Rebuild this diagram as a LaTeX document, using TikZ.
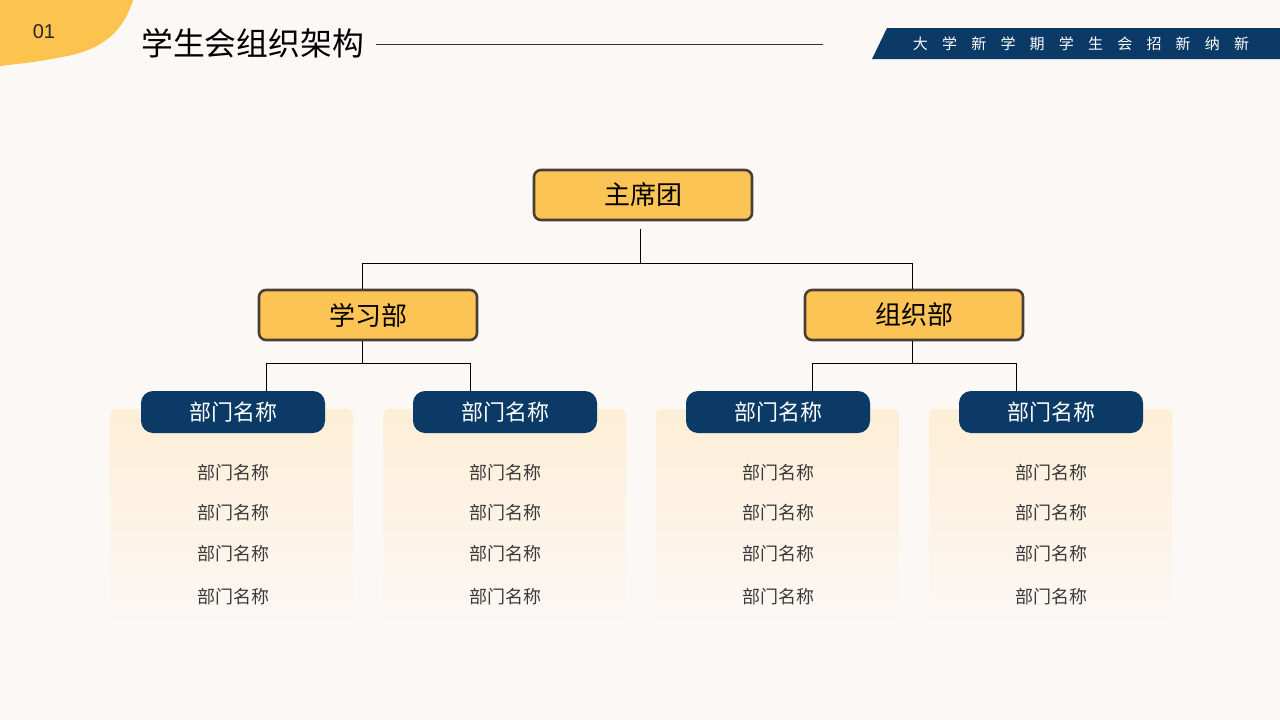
\documentclass[tikz,border=0pt]{standalone}
\usepackage{fontspec}
\setmainfont{Noto Sans CJK SC}
\newfontfamily\latinsans{Liberation Sans}
\definecolor{bgc}{RGB}{252,248,246}
\definecolor{yel}{RGB}{252,196,84}
\definecolor{blob}{RGB}{252,196,78}
\definecolor{navy}{RGB}{11,58,102}
\definecolor{edgec}{RGB}{74,63,53}
\definecolor{cardtop}{RGB}{253,238,214}
\definecolor{itemc}{RGB}{58,58,58}
\tikzset{
  lead/.style={yel, fill=yel, draw=edgec, line width=2.6pt, rounded corners=7pt, minimum width=218pt, minimum height=50pt, inner sep=0pt, font=\fontsize{26}{30}\selectfont, text=black},
  pill/.style={fill=navy, rounded corners=12pt, minimum width=184pt, minimum height=42pt, inner sep=0pt, font=\fontsize{22}{26}\selectfont, text=white},
  item/.style={font=\fontsize{18}{22}\selectfont, text=itemc, inner sep=0pt},
  wire/.style={draw=black, line width=1pt},
}
\begin{document}
\begin{tikzpicture}[x=1pt,y=-1pt]
\fill[bgc] (0,0) rectangle (1280,720);
\useasboundingbox (0,0) rectangle (1280,720);
% top-left blob
\fill[blob] (0,0) -- (133,0) .. controls (124,30) and (104,50) .. (62,57) .. controls (35,62) .. (0,66) -- cycle;
\node[font=\latinsans\fontsize{20}{24}\selectfont, text=black!85] (num) at (44,32) {01};
\node[font=\fontsize{31.8}{36}\selectfont, anchor=west, inner sep=0pt, text=black] (title) at (141,43) {学生会组织架构};
\coordinate (tl1) at (376,44);
\coordinate (tl2) at (823,44);
\draw[line width=1pt, black!80] (tl1) -- (tl2);
% banner
\fill[navy] (887,28) -- (1280,28) -- (1280,59) -- (872,59) -- cycle;
\node[font=\fontsize{15}{18}\selectfont, text=white, inner sep=0pt] (banner) at (1081,44) {大\hspace{14.2pt}学\hspace{14.2pt}新\hspace{14.2pt}学\hspace{14.2pt}期\hspace{14.2pt}学\hspace{14.2pt}生\hspace{14.2pt}会\hspace{14.2pt}招\hspace{14.2pt}新\hspace{14.2pt}纳\hspace{14.2pt}新};
% cards
\foreach \cx/\n in {231.5/1,504.5/2,777.5/3,1050.5/4}{
  \shade[top color=cardtop, bottom color=bgc, rounded corners=6pt] (\cx-121.5,409) rectangle (\cx+121.5,630);
}
% top nodes
\node[lead] (head) at (643,195) {主席团};
\node[lead] (study) at (368,315) {学习部};
\node[lead] (org) at (914,315) {组织部};
% pills
\node[pill] (p1) at (233,412) {部门名称};
\node[pill] (p2) at (505,412) {部门名称};
\node[pill] (p3) at (778,412) {部门名称};
\node[pill] (p4) at (1051,412) {部门名称};
% connectors
\coordinate (h0) at (640,229);
\coordinate (hj) at (640,263);
\coordinate (sj) at (362,341);
\coordinate (oj) at (912,341);
\draw[wire] (h0) -- (hj);
\draw[wire] (hj) -| (362,289);
\draw[wire] (hj) -| (912,289);
\draw[wire] (sj) -- (362,363) -| (266,392);
\draw[wire] (362,363) -| (470,392);
\draw[wire] (oj) -- (912,363) -| (812,392);
\draw[wire] (912,363) -| (1016,392);
% items
\foreach \cx/\n in {233/1,505/2,778/3,1051/4}{
  \foreach \yy/\m in {472/1,512/2,553/3,596/4}{
    \node[item] (i\n\m) at (\cx,\yy+0.8) {部门名称};
  }
}
\end{tikzpicture}
\end{document}
